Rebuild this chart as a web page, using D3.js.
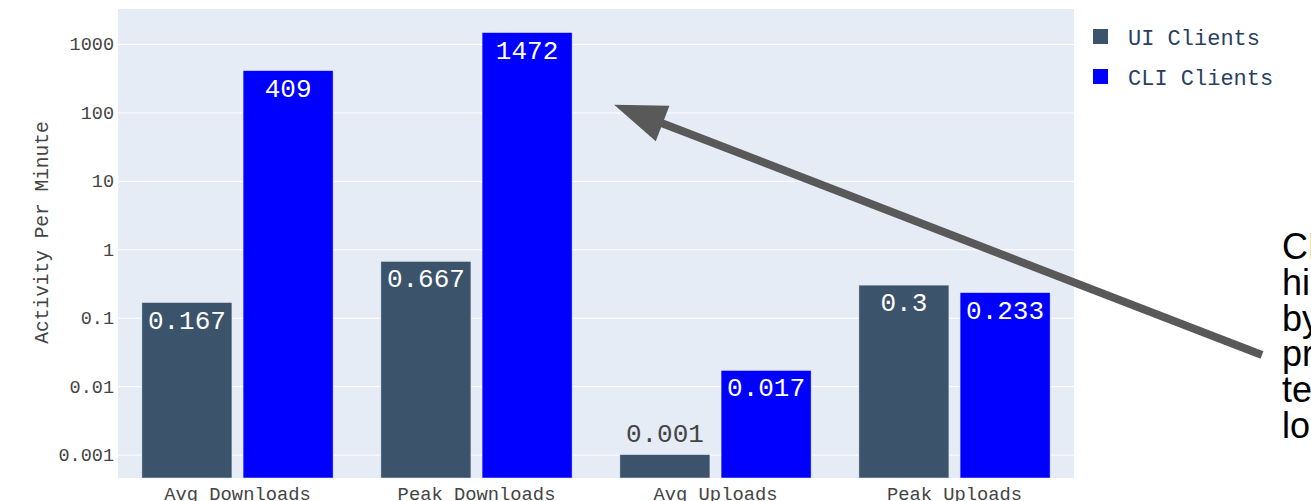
<!DOCTYPE html>
<html>
<head>
<meta charset="utf-8">
<script src="https://cdn.jsdelivr.net/npm/d3@7"></script>
<style>
  body { margin: 0; background: #fff; overflow: hidden; }
  text { font-family: "Liberation Mono", "DejaVu Sans Mono", monospace; }
</style>
</head>
<body>
<div id="chart"></div>
<script>
// datos
const categories = ["Avg Downloads", "Peak Downloads", "Avg Uploads", "Peak Uploads"]
const series = ["UI Clients", "CLI Clients"]
const uiValues = [0.167, 0.667, 0.001, 0.3]
const cliValues = [409, 1472, 0.017, 0.233]
const uiLabels = ["0.167", "0.667", "0.001", "0.3"]
const cliLabels = ["409", "1472", "0.017", "0.233"]
const yTicks = [0.001, 0.01, 0.1, 1, 10, 100, 1000]
const yTickLabels = ["0.001", "0.01", "0.1", "1", "10", "100", "1000"]
const yTitle = "Activity Per Minute"
const noteLines = ["CLI activity", "higher", "by orders of", "probably", "tests and", "loops"]

const colors = { "UI Clients": "#3b536b", "CLI Clients": "#0000ff" }

// constantes
const width = 1311
const height = 501
const margin = { top: 9, right: 237, bottom: 23, left: 118 }
const innerW = width - margin.left - margin.right
const innerH = height - margin.top - margin.bottom

const svg = d3.select("div#chart")
  .append("svg")
  .attr("width", width)
  .attr("height", height)

const plot = svg.append("g")
  .attr("transform", `translate(${margin.left},${margin.top})`)

// escalas
const x = d3.scaleBand()
  .domain(categories)
  .range([0, innerW])
  .paddingInner(0.2)
  .paddingOuter(0.1)
const xSub = d3.scaleBand()
  .domain(series)
  .range([0, x.bandwidth()])
  .paddingInner(0.11)
const y = d3.scaleLog()
  .domain([Math.pow(10, -3.342), Math.pow(10, 3.512)])
  .range([innerH, 0])

// fondo
plot.append("rect")
  .attr("width", innerW)
  .attr("height", innerH)
  .attr("fill", "#e5ecf6")

// ejes
const yAxis = d3.axisLeft(y)
  .tickValues(yTicks)
  .tickFormat((d, i) => yTickLabels[i])
  .tickSize(-innerW)
  .tickPadding(4)
const yAxisGroup = plot.append("g").call(yAxis)
yAxisGroup.select(".domain").remove()
yAxisGroup.selectAll("line").attr("stroke", "#fff").attr("stroke-width", 1)
yAxisGroup.selectAll("text")
  .attr("fill", "#444")
  .style("font-size", "18.5px")

const xAxis = d3.axisBottom(x).tickSize(0).tickPadding(9)
const xAxisGroup = plot.append("g")
  .attr("transform", `translate(0,${innerH})`)
  .call(xAxis)
xAxisGroup.select(".domain").remove()
xAxisGroup.selectAll("text")
  .attr("fill", "#444")
  .style("font-size", "18.8px")

// título del eje y
svg.append("text")
  .attr("transform", `translate(48,${margin.top + innerH / 2 - 11}) rotate(-90)`)
  .attr("text-anchor", "middle")
  .attr("fill", "#444")
  .style("font-size", "19.5px")
  .text(yTitle)

// barras
const rows = []
categories.forEach((c, i) => {
  rows.push({ cat: c, s: "UI Clients", v: uiValues[i], label: uiLabels[i] })
  rows.push({ cat: c, s: "CLI Clients", v: cliValues[i], label: cliLabels[i] })
})

const groups = plot.append("g")
groups.selectAll("rect")
  .data(rows)
  .enter()
  .append("rect")
  .attr("x", d => x(d.cat) + xSub(d.s))
  .attr("y", d => y(d.v))
  .attr("width", xSub.bandwidth())
  .attr("height", d => innerH - y(d.v))
  .attr("fill", d => colors[d.s])
  .attr("stroke", "#e5ecf6")
  .attr("stroke-width", 0.5)

// etiquetas: dentro si caben, fuera si no
groups.selectAll("text.lbl")
  .data(rows)
  .enter()
  .append("text")
  .attr("class", "lbl")
  .attr("text-anchor", "middle")
  .attr("x", d => x(d.cat) + xSub(d.s) + xSub.bandwidth() / 2)
  .attr("y", d => (innerH - y(d.v) > 30) ? y(d.v) + 26 : y(d.v) - 13)
  .attr("fill", d => (innerH - y(d.v) > 30) ? "#fff" : "#444")
  .style("font-size", "26px")
  .text(d => d.label)

// leyenda
const legend = svg.append("g").attr("transform", "translate(1093,29)")
series.forEach((s, i) => {
  const g = legend.append("g").attr("transform", `translate(0,${i * 40})`)
  g.append("rect").attr("width", 15).attr("height", 15).attr("fill", colors[s])
  g.append("text")
    .attr("x", 35)
    .attr("y", 16)
    .attr("fill", "#2a3f5f")
    .style("font-size", "22px")
    .text(s)
})

// flecha de anotación
const tip = [x("Peak Downloads") + x.bandwidth() + 42, margin.top + y(130)]
const tail = [1262, 355]
const headLen = 52
const headHalf = 19
const dx = tail[0] - tip[0] - margin.left, dy = tail[1] - tip[1]
const len = Math.hypot(dx, dy)
const ux = dx / len, uy = dy / len
const tipAbs = [tip[0] + margin.left, tip[1]]
const base = [tipAbs[0] + ux * headLen, tipAbs[1] + uy * headLen]

svg.append("line")
  .attr("x1", base[0] - ux * 2).attr("y1", base[1] - uy * 2)
  .attr("x2", tail[0]).attr("y2", tail[1])
  .attr("stroke", "#595959")
  .attr("stroke-width", 8)
svg.append("polygon")
  .attr("points", [
    tipAbs,
    [base[0] - uy * headHalf, base[1] + ux * headHalf],
    [base[0] + uy * headHalf, base[1] - ux * headHalf]
  ].map(p => p.join(",")).join(" "))
  .attr("fill", "#595959")

// texto de la nota
const note = svg.append("text")
  .attr("x", 1282)
  .attr("y", 259)
  .attr("fill", "#000")
  .style("font-family", "'Liberation Sans', Arial, sans-serif")
  .style("font-size", "36px")
note.selectAll("tspan")
  .data(noteLines)
  .enter()
  .append("tspan")
  .attr("x", 1282)
  .attr("dy", (d, i) => i === 0 ? 0 : 35.8)
  .text(d => d)
</script>
</body>
</html>
